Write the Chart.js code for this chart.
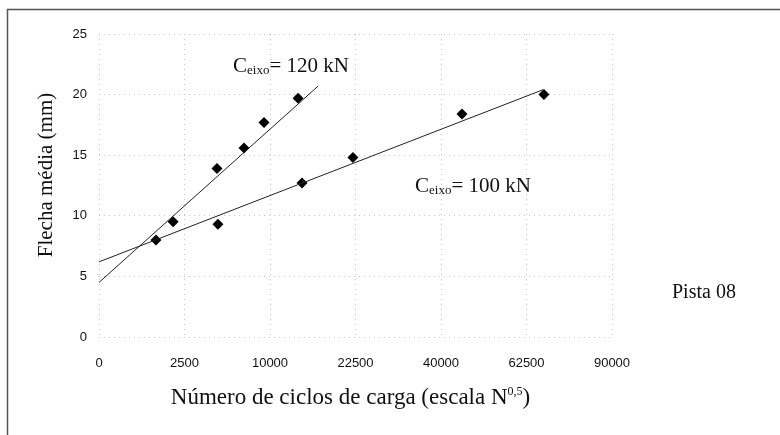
<!DOCTYPE html>
<html><head><meta charset="utf-8">
<script src="https://cdn.jsdelivr.net/npm/chart.js@4/dist/chart.umd.min.js"></script>
<style>html,body{margin:0;padding:0;background:#fff}canvas{display:block}</style>
</head><body>
<canvas id="c" width="780" height="435" style="width:780px;height:435px"></canvas>
<script>
// ---- data (x in number of load cycles N, plotted on an N^0.5 scale) ----
const xTickCycles = [0, 2500, 10000, 22500, 40000, 62500, 90000];
const yTickValues = [0, 5, 10, 15, 20, 25];
const cycles120 = [1880, 4760, 7190, 9310, 13550];
const deflection120 = [9.5, 13.9, 15.6, 17.7, 19.7];
const cycles100 = [1110, 4840, 14090, 22050, 45070, 67700];
const deflection100 = [8.0, 9.3, 12.7, 14.8, 18.4, 20.0];
const trendCycles120 = [0, 16410];
const trendDefl120 = [4.5, 20.7];
const trendCycles100 = [0, 67400];
const trendDefl100 = [6.2, 20.4];
const yTitle = 'Flecha média (mm)';
const xTitleMain = 'Número de ciclos de carga (escala N';
const xTitleSup = '0,5';
const xTitleEnd = ')';
const label120 = ['C', 'eixo', '= 120 kN'];
const label100 = ['C', 'eixo', '= 100 kN'];
const trackLabel = 'Pista 08';

const toPts = (ns, ys) => ns.map((n, i) => ({x: Math.sqrt(n), y: ys[i]}));
const SERIF = '"Liberation Serif", "Times New Roman", serif';
const SANS = '"Liberation Sans", Arial, sans-serif';

function richText(ctx, x, y, parts) {
  let cx = x;
  parts.forEach(p => {
    ctx.font = p.size + 'px ' + SERIF;
    ctx.fillText(p.t, cx, y + (p.dy || 0));
    cx += ctx.measureText(p.t).width + (p.gap || 0);
  });
  return cx - x;
}
function richWidth(ctx, parts) {
  let w = 0;
  parts.forEach(p => { ctx.font = p.size + 'px ' + SERIF; w += ctx.measureText(p.t).width + (p.gap || 0); });
  return w;
}

const annotPlugin = {
  id: 'annot',
  afterDraw(chart) {
    const ctx = chart.ctx, xs = chart.scales.x, ys = chart.scales.y, ca = chart.chartArea;
    ctx.save();
    // frame (scanned page border)
    ctx.strokeStyle = '#555';
    ctx.lineWidth = 1.5;
    ctx.beginPath();
    ctx.moveTo(7.5, 435); ctx.lineTo(7.5, 9.5); ctx.lineTo(780, 9.5);
    ctx.stroke();

    ctx.fillStyle = '#111';
    ctx.textBaseline = 'alphabetic';
    ctx.textAlign = 'left';
    // series labels
    richText(ctx, xs.getPixelForValue(78.4), ys.getPixelForValue(21.9), [
      {t: label120[0], size: 21}, {t: label120[1], size: 13, dy: 2}, {t: label120[2], size: 21}]);
    richText(ctx, xs.getPixelForValue(184.8), ys.getPixelForValue(11.96), [
      {t: label100[0], size: 21}, {t: label100[1], size: 13, dy: 2}, {t: label100[2], size: 21}]);
    // track label
    ctx.font = '20px ' + SERIF;
    ctx.fillText(trackLabel, ca.right + 60, ys.getPixelForValue(3.2));

    // x title
    const xParts = [{t: xTitleMain, size: 23}, {t: xTitleSup, size: 12, dy: -9}, {t: xTitleEnd, size: 23}];
    const w = richWidth(ctx, xParts);
    richText(ctx, (ca.left + ca.right) / 2 - 5 - w / 2, 404, xParts);

    // y title
    ctx.translate(46, 175);
    ctx.rotate(-Math.PI / 2);
    ctx.font = '21px ' + SERIF;
    ctx.textAlign = 'center';
    ctx.textBaseline = 'middle';
    ctx.fillText(yTitle, 0, 0);
    ctx.restore();
  }
};

const gridStyle = {color: '#c4c4c4', lineWidth: 1, drawTicks: false};

new Chart(document.getElementById('c'), {
  type: 'scatter',
  data: {
    datasets: [
      {label: 'Tendência 120 kN', data: toPts(trendCycles120, trendDefl120), showLine: true,
       borderColor: '#222', borderWidth: 1, pointRadius: 0, fill: false},
      {label: 'Tendência 100 kN', data: toPts(trendCycles100, trendDefl100), showLine: true,
       borderColor: '#222', borderWidth: 1, pointRadius: 0, fill: false},
      {label: 'C eixo = 120 kN', data: toPts(cycles120, deflection120), pointStyle: 'rectRot',
       pointRadius: 5.5, backgroundColor: '#000', borderColor: '#000', borderWidth: 0},
      {label: 'C eixo = 100 kN', data: toPts(cycles100, deflection100), pointStyle: 'rectRot',
       pointRadius: 5.5, backgroundColor: '#000', borderColor: '#000', borderWidth: 0}
    ]
  },
  options: {
    responsive: false,
    devicePixelRatio: 1,
    animation: false,
    layout: {padding: {left: 0, top: 34, right: 168, bottom: 0}},
    plugins: {legend: {display: false}, tooltip: {enabled: false}},
    scales: {
      x: {
        type: 'linear', min: 0, max: Math.sqrt(xTickCycles[xTickCycles.length - 1]),
        afterBuildTicks: s => { s.ticks = xTickCycles.map(n => ({value: Math.sqrt(n)})); },
        afterFit: s => { s.height = 98; },
        grid: gridStyle,
        border: {display: false, dash: [1, 4]},
        ticks: {
          padding: 19, color: '#111', font: {family: SANS, size: 13}, maxRotation: 0, autoSkip: false,
          callback: v => String(Math.round(v * v))
        }
      },
      y: {
        min: yTickValues[0], max: yTickValues[yTickValues.length - 1],
        afterBuildTicks: s => { s.ticks = yTickValues.map(v => ({value: v})); },
        afterFit: s => { s.width = 99; },
        grid: gridStyle,
        border: {display: false, dash: [1, 4]},
        ticks: {padding: 12, color: '#111', font: {family: SANS, size: 13}}
      }
    }
  },
  plugins: [annotPlugin]
});
</script>
</body></html>
